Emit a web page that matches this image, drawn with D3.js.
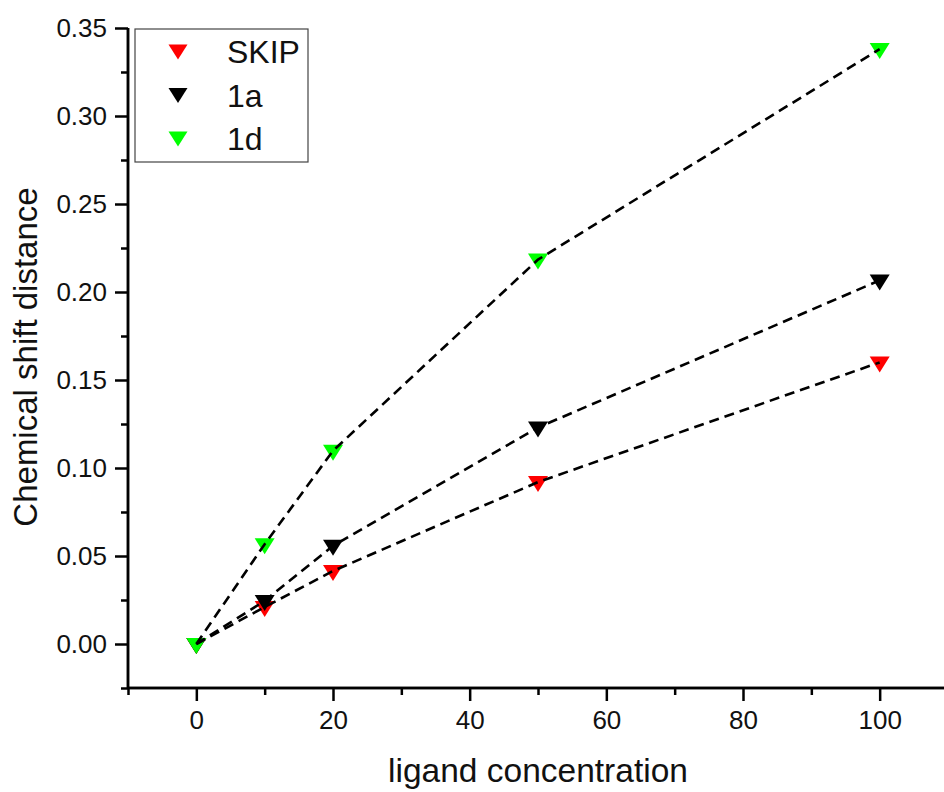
<!DOCTYPE html>
<html>
<head>
<meta charset="utf-8">
<script src="https://cdn.jsdelivr.net/npm/d3@7"></script>
<style>
  body { margin: 0; background: #fff; }
  svg { display: block; font-family: "Liberation Sans", Arial, sans-serif; }
</style>
</head>
<body>
<div id="chart"></div>
<script>
  // data
  const concentration = [0, 10, 20, 50, 100];
  const skip = [0, 0.021, 0.0415, 0.092, 0.160];
  const oneA = [0, 0.0245, 0.0558, 0.123, 0.2066];
  const oneD = [0, 0.0567, 0.1098, 0.2184, 0.338];
  const seriesNames = ["SKIP", "1a", "1d"];
  const seriesValues = [skip, oneA, oneD];
  const seriesColors = ["#ff0000", "#000000", "#00ff00"];

  const xTicks = [0, 20, 40, 60, 80, 100];
  const xMinorTicks = [-10, 10, 30, 50, 70, 90, 110];
  const yTicks = [0, 0.05, 0.10, 0.15, 0.20, 0.25, 0.30, 0.35];
  const yMinorTicks = [-0.025, 0.025, 0.075, 0.125, 0.175, 0.225, 0.275, 0.325];

  const width = 944, height = 792;
  const margin = {top: 28, left: 128, bottom: 688};

  const x = d3.scaleLinear()
    .domain([-10, 110])
    .range([margin.left, 948]);

  const y = d3.scaleLinear()
    .domain([-0.025, 0.35])
    .range([margin.bottom, margin.top]);

  const svg = d3.select("#chart").append("svg")
    .attr("width", width)
    .attr("height", height);

  // down pointing triangle, centred on its box
  function triangle(w, h) {
    const p = d3.path();
    p.moveTo(-w / 2, -h / 2);
    p.lineTo(w / 2, -h / 2);
    p.lineTo(0, h / 2);
    p.closePath();
    return p.toString();
  }

  // Axes
  const xAxis = d3.axisBottom(x).tickValues(xTicks).tickSize(13).tickPadding(10)
    .tickFormat(d3.format("d"));
  const xMinor = d3.axisBottom(x).tickValues(xMinorTicks).tickSize(7).tickFormat("");
  const yAxis = d3.axisLeft(y).tickValues(yTicks).tickSize(13).tickPadding(8)
    .tickFormat(d3.format(".2f"));
  const yMinor = d3.axisLeft(y).tickValues(yMinorTicks).tickSize(7).tickFormat("");

  [xMinor, xAxis].forEach(a => {
    svg.append("g")
      .attr("class", "x axis")
      .attr("transform", "translate(0," + margin.bottom + ")")
      .call(a);
  });
  [yMinor, yAxis].forEach(a => {
    svg.append("g")
      .attr("class", "y axis")
      .attr("transform", "translate(" + margin.left + ",0)")
      .call(a);
  });

  svg.selectAll(".axis path, .axis line")
    .attr("stroke", "#000")
    .attr("stroke-width", 2.5);
  svg.selectAll(".axis path").attr("d", function() {
    return d3.select(this.parentNode).classed("x")
      ? "M" + margin.left + ",0H" + 948
      : "M0," + margin.bottom + "V" + margin.top;
  });
  svg.selectAll(".axis text")
    .attr("font-size", 26)
    .attr("fill", "#111")
    .attr("font-family", "Liberation Sans, Arial, sans-serif");

  // markers
  seriesValues.forEach((vals, i) => {
    svg.append("g")
      .selectAll("path")
      .data(vals)
      .join("path")
      .attr("d", triangle(20, 16))
      .attr("transform", (d, j) => "translate(" + x(concentration[j]) + "," + (y(d) + 2) + ")")
      .attr("fill", seriesColors[i]);
  });

  // dashed lines on top of the markers
  const line = d3.line()
    .x((d, j) => x(concentration[j]))
    .y(d => y(d));

  seriesValues.forEach(vals => {
    svg.append("path")
      .datum(vals)
      .attr("d", line)
      .attr("fill", "none")
      .attr("stroke", "#000")
      .attr("stroke-width", 2.6)
      .attr("stroke-dasharray", "10,6");
  });

  // axis titles
  svg.append("text")
    .attr("x", 538)
    .attr("y", 782)
    .attr("text-anchor", "middle")
    .attr("font-size", 33.5)
    .attr("fill", "#111")
    .text("ligand concentration");

  svg.append("text")
    .attr("transform", "translate(37,357) rotate(-90)")
    .attr("text-anchor", "middle")
    .attr("font-size", 33)
    .attr("fill", "#111")
    .text("Chemical shift distance");

  // legend
  const legend = svg.append("g");
  legend.append("rect")
    .attr("x", 135)
    .attr("y", 29)
    .attr("width", 173)
    .attr("height", 133)
    .attr("fill", "#fff")
    .attr("stroke", "#444")
    .attr("stroke-width", 1.2);

  const entry = legend.selectAll("g.entry")
    .data(seriesNames)
    .join("g")
    .attr("class", "entry")
    .attr("transform", (d, i) => "translate(0," + (52 + i * 43.5) + ")");

  entry.append("path")
    .attr("d", triangle(19, 15))
    .attr("transform", "translate(178,0)")
    .attr("fill", (d, i) => seriesColors[i]);

  entry.append("text")
    .attr("x", 227)
    .attr("y", 11)
    .attr("font-size", 32)
    .attr("fill", "#111")
    .text(d => d);
</script>
</body>
</html>
